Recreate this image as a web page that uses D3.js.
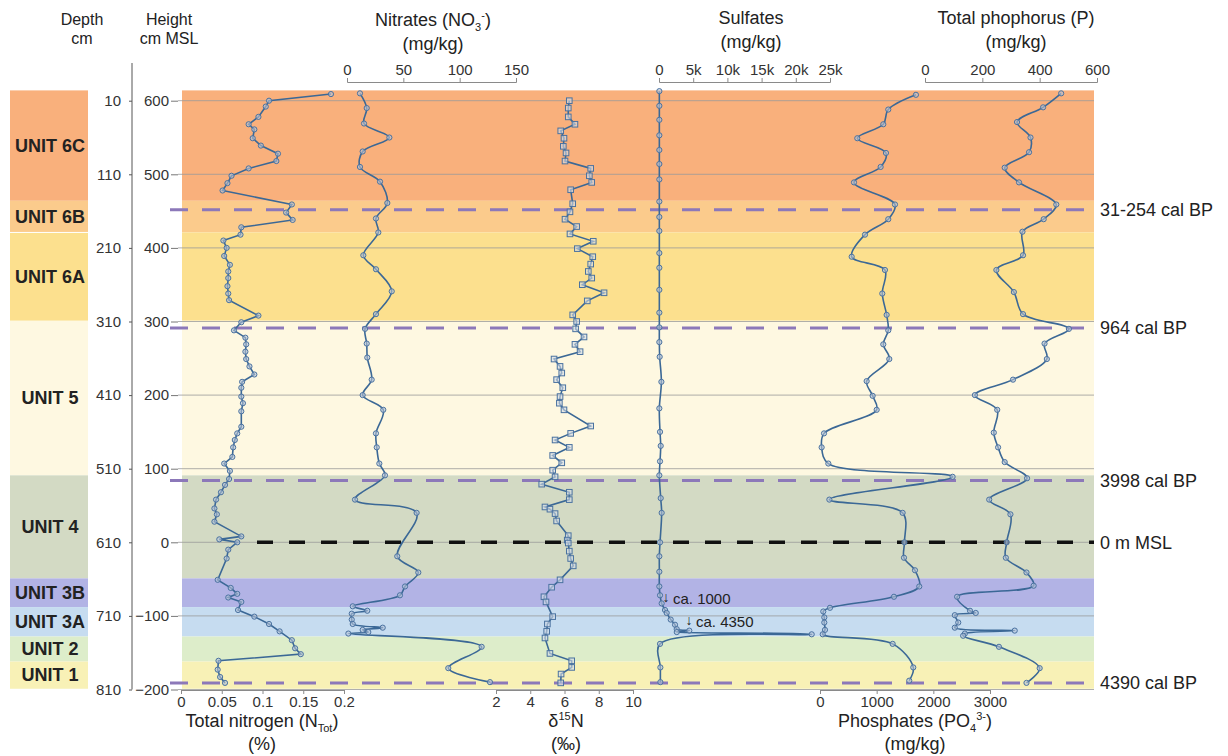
<!DOCTYPE html>
<html lang="en">
<head>
<meta charset="UTF-8">
<title>Sediment core geochemistry profile</title>
<style>
  body { margin: 0; background: #fff; font-family: "Liberation Sans", Arial, sans-serif; }
  svg text { fill: #222; font-family: "Liberation Sans", Arial, sans-serif; }
  .tick text { fill: #333; }
</style>
</head>
<body>
<svg id="chart" width="1228" height="756"></svg>
<script src="https://d3js.org/d3.v7.min.js"></script>
<script>
// ---- data (height in cm MSL, value) ----
const units = ["UNIT 6C", "UNIT 6B", "UNIT 6A", "UNIT 5", "UNIT 4", "UNIT 3B", "UNIT 3A", "UNIT 2", "UNIT 1"];
const unitTops = [614, 464, 421, 301, 91, -49, -88, -128, -162];
const unitBottoms = [464, 421, 301, 91, -49, -88, -128, -162, -199];

const heightTicks = [600, 500, 400, 300, 200, 100, 0, -100, -200];
const depthLabels = [10, 110, 210, 310, 410, 510, 610, 710, 810];

const ageLines = [452, 291, 84, -191];
const ageLabels = ["31-254 cal BP", "964 cal BP", "3998 cal BP", "4390 cal BP"];

const totalN = [[609,0.184],[600,0.108],[592,0.104],[578,0.095],[568,0.083],[561,0.090],[549,0.088],[539,0.098],
  [528,0.119],[518,0.117],[508,0.083],[498,0.062],[488,0.057],[478,0.051],[459,0.136],[448,0.129],[438,0.137],
  [428,0.074],[418,0.073],[410,0.052],[400,0.056],[389,0.053],[377,0.060],[368,0.058],[359,0.058],[348,0.057],
  [338,0.058],[329,0.059],[308,0.095],[299,0.074],[288,0.065],[278,0.079],[269,0.080],[259,0.079],[249,0.080],
  [239,0.084],[228,0.090],[218,0.075],[210,0.074],[198,0.074],[189,0.076],[178,0.074],[157,0.074],[148,0.069],
  [139,0.066],[129,0.064],[116,0.063],[107,0.053],[97,0.060],[86,0.059],[78,0.054],[68,0.049],[58,0.043],
  [46,0.041],[38,0.044],[28,0.041],[8,0.074],[4,0.047],[0,0.069],[-10,0.058],[-22,0.056],[-51,0.045],
  [-62,0.061],[-70,0.069],[-75,0.058],[-81,0.074],[-92,0.070],[-101,0.090],[-111,0.108],[-121,0.121],
  [-133,0.136],[-144,0.140],[-152,0.147],[-161,0.046],[-173,0.045],[-183,0.048],[-191,0.054]];

const nitrates = [[610,11.5],[590,17.5],[569,15.1],[550,37.6],[531,13.9],[510,11.5],[490,29.3],[461,35.8],
  [440,25.7],[421,27.8],[390,14.5],[371,25.7],[341,39.7],[310,25.7],[290,16.0],[270,17.5],[251,18.0],
  [221,21.9],[200,13.9],[180,32.2],[148,25.7],[129,26.4],[107,28.7],[91,33.7],[58,7.1],[40,61.8],
  [-19,44.6],[-41,63.3],[-60,51.5],[-72,47.0],[-87,5.1],[-93,18.0],[-97,4.2],[-105,4.2],[-111,5.1],
  [-116,31.7],[-119,13.9],[-122,18.9],[-124,1.2],[-142,119.5],[-171,89.9],[-190,126.9]];

const delta15N = [[600,6.28],[590,6.22],[578,6.22],[568,6.61],[559,5.78],[549,5.97],[538,5.93],[529,6.09],
  [518,6.03],[508,7.53],[498,7.45],[489,7.59],[479,6.36],[460,6.48],[449,6.32],[439,6.03],[429,6.71],
  [419,6.32],[409,7.68],[399,6.75],[388,7.65],[378,7.53],[368,7.39],[359,7.59],[350,7.04],[339,8.31],
  [328,7.33],[309,6.48],[300,6.71],[290,6.65],[279,7.14],[269,6.61],[259,6.91],[249,5.39],[239,5.74],
  [230,5.84],[221,5.54],[210,5.90],[198,5.74],[189,5.70],[180,5.97],[158,7.53],[148,6.36],[139,5.45],
  [129,6.28],[118,5.31],[108,5.84],[98,5.31],[89,5.45],[79,4.67],[68,6.28],[58,6.28],[48,4.86],[45,5.15],
  [39,5.45],[29,5.54],[9,6.22],[3,6.16],[-1,6.22],[-12,6.28],[-22,6.36],[-32,6.51],[-51,5.74],[-61,5.25],
  [-74,4.80],[-81,4.92],[-101,5.31],[-111,5.00],[-121,4.96],[-130,4.86],[-151,5.15],[-161,6.42],
  [-170,6.42],[-179,5.80],[-191,5.78]];

const sulfates = [[613,50],[593,50],[574,50],[553,50],[533,50],[514,50],[493,50],[463,50],[442,50],[423,50],
  [393,50],[373,50],[343,50],[312,50],[292,50],[272,50],[252,100],[218,350],[182,50],[150,150],[131,250],
  [110,150],[91,50],[60,250],[40,390],[0,150],[-19,50],[-40,50],[-60,50],[-72,150],[-83,390],[-92,880],
  [-96,1125],[-105,1710],[-112,2340],[-118,2590],[-120,4430],[-122,2600],[-125,22325],[-138,150],
  [-170,200],[-190,200]];

const phosphates = [[608,1693],[588,1205],[568,1117],[549,658],[529,1164],[510,1070],[489,600],[459,1323],
  [439,1205],[418,794],[388,559],[370,1146],[338,1099],[309,1176],[288,1205],[269,1117],[249,1223],
  [219,823],[199,929],[180,1000],[148,71],[129,29],[107,147],[89,2340],[58,165],[40,1458],[0,1490],
  [-21,1482],[-38,1676],[-60,1752],[-74,1305],[-89,176],[-94,58],[-102,76],[-109,76],[-119,88],[-125,48],
  [-138,1282],[-170,1646],[-188,1575]];

const totalP = [[610,475],[591,412],[571,321],[550,368],[530,363],[509,278],[489,328],[459,458],[439,414],
  [422,340],[390,342],[370,249],[340,310],[310,342],[290,502],[270,417],[249,425],[221,307],[200,174],
  [180,252],[149,240],[129,255],[109,278],[87,356],[58,224],[38,298],[0,285],[-21,282],[-41,354],
  [-59,379],[-74,112],[-93,157],[-96,177],[-99,104],[-109,116],[-116,104],[-120,313],[-124,139],
  [-127,133],[-142,258],[-171,400],[-191,354]];

const tnTicks = [0, 0.05, 0.1, 0.15, 0.2];
const noTicks = [0, 50, 100, 150];
const dnTicks = [2, 4, 6, 8, 10];
const soTicks = [0, 5000, 10000, 15000, 20000, 25000];
const poTicks = [0, 1000, 2000, 3000];
const tpTicks = [0, 200, 400, 600];

// ---- layout ----
const unitColors = ["#F9B07C", "#FBCB8C", "#FCE08E", "#FEF8E1", "#D3DAC4", "#B2B3E5", "#C6DCF0", "#DDEDCA", "#F8F1B6"];
const lineColor = "#3B6896";
const plotLeft = 182, plotRight = 1094;

const svg = d3.select('#chart');
const y = d3.scaleLinear().domain([600, -200]).range([100.7, 689.5]);

const xTN = d3.scaleLinear().domain([0, 0.2]).range([181, 344]);
const xNO = d3.scaleLinear().domain([0, 150]).range([347, 516]);
const xDN = d3.scaleLinear().domain([2, 10]).range([496, 633]);
const xSO = d3.scaleLinear().domain([0, 25000]).range([659, 830]);
const xPO = d3.scaleLinear().domain([0, 3000]).range([820, 990]);
const xTP = d3.scaleLinear().domain([0, 600]).range([925, 1097]);

// unit bands: left column and plot background
units.forEach((u, i) => {
    const y0 = y(unitTops[i]), y1 = y(unitBottoms[i]);
    svg.append('rect').attr('x', 10).attr('y', y0).attr('width', 78).attr('height', y1 - y0)
        .attr('fill', unitColors[i]);
    svg.append('rect').attr('x', plotLeft).attr('y', y0).attr('width', plotRight - plotLeft).attr('height', y1 - y0)
        .attr('fill', unitColors[i]);
    svg.append('text').attr('x', 50).attr('y', (y0 + y1) / 2).attr('dy', '0.35em')
        .attr('text-anchor', 'middle').style('font-size', '18px').style('font-weight', 'bold')
        .text(u);
});
// thin white split between 6B and 6A in left column
svg.append('line').attr('x1', 10).attr('x2', 88).attr('y1', y(421)).attr('y2', y(421))
    .attr('stroke', '#fff').attr('stroke-width', 1);

// grid lines
svg.append('g').selectAll('line').data(heightTicks).enter().append('line')
    .attr('x1', 178).attr('x2', plotRight)
    .attr('y1', d => y(d)).attr('y2', d => y(d))
    .attr('stroke', '#9a9a9a').attr('stroke-width', 0.8);

// depth axis (left)
svg.append('line').attr('x1', 132).attr('x2', 132).attr('y1', 63).attr('y2', y(-200))
    .attr('stroke', '#555').attr('stroke-width', 1);
const depthAxis = d3.axisLeft(y).tickValues(heightTicks).tickSize(3).tickPadding(8)
    .tickFormat((d, i) => depthLabels[i]);
svg.append('g').attr('transform', 'translate(132,0)').call(depthAxis)
    .call(g => g.select('.domain').remove())
    .call(g => g.selectAll('line').attr('stroke', '#555'))
    .call(g => g.selectAll('text').style('font-size', '15px'));

// height axis
const heightAxis = d3.axisLeft(y).tickValues(heightTicks).tickSize(7).tickPadding(2);
svg.append('g').attr('transform', 'translate(178,0)').call(heightAxis)
    .call(g => g.select('.domain').remove())
    .call(g => g.selectAll('line').attr('stroke', '#777'))
    .call(g => g.selectAll('text').style('font-size', '15px'));

// age lines
svg.append('g').selectAll('line').data(ageLines).enter().append('line')
    .attr('x1', 170).attr('x2', plotRight)
    .attr('y1', d => y(d)).attr('y2', d => y(d))
    .attr('stroke', '#8C78B9').attr('stroke-width', 3).attr('stroke-dasharray', '18,14');
svg.append('g').selectAll('text').data(ageLines).enter().append('text')
    .attr('x', 1100).attr('y', d => y(d)).attr('dy', '0.35em')
    .style('font-size', '18px').text((d, i) => ageLabels[i]);

// sea level
svg.append('line').attr('x1', 257).attr('x2', plotRight).attr('y1', y(0)).attr('y2', y(0))
    .attr('stroke', '#111').attr('stroke-width', 3.5).attr('stroke-dasharray', '16,16');
svg.append('text').attr('x', 1100).attr('y', y(0)).attr('dy', '0.35em')
    .style('font-size', '18px').text('0 m MSL');

// profiles
function profile(data, x, curve, shape) {
    const line = d3.line().x(d => x(d[1])).y(d => y(d[0])).curve(curve);
    svg.append('path').datum(data).attr('d', line)
        .attr('fill', 'none').attr('stroke', lineColor).attr('stroke-width', 1.6);
    const g = svg.append('g');
    if (shape === 'square') {
        g.selectAll('rect').data(data).enter().append('rect')
            .attr('x', d => x(d[1]) - 2.8).attr('y', d => y(d[0]) - 2.8)
            .attr('width', 5.6).attr('height', 5.6)
            .attr('fill', '#D3DCE8').attr('fill-opacity', 0.6)
            .attr('stroke', '#4A72A0').attr('stroke-width', 1);
    } else {
        g.selectAll('circle').data(data).enter().append('circle')
            .attr('cx', d => x(d[1])).attr('cy', d => y(d[0])).attr('r', 2.6)
            .attr('fill', '#B4C3D8').attr('fill-opacity', 0.6)
            .attr('stroke', '#4A72A0').attr('stroke-width', 1);
    }
}
const smooth = d3.curveCatmullRom.alpha(0.5);
profile(totalN, xTN, d3.curveLinear, 'circle');
profile(nitrates, xNO, smooth, 'circle');
profile(delta15N, xDN, d3.curveLinear, 'square');
profile(sulfates, xSO, smooth, 'circle');
profile(phosphates, xPO, smooth, 'circle');
profile(totalP, xTP, smooth, 'circle');

// sulfate annotations
function note(xp, yp, label) {
    svg.append('text').attr('x', xp).attr('y', yp).attr('dy', '0.35em')
        .attr('text-anchor', 'middle').style('font-size', '14px').text('\u2193');
    svg.append('text').attr('x', xp + 7).attr('y', yp + 2).attr('dy', '0.35em')
        .style('font-size', '15px').text(label);
}
note(666, 597, 'ca. 1000');
note(689, 620, 'ca. 4350');

// value axes
function styleAxis(g) {
    g.selectAll('path, line').attr('stroke', '#8a8a8a');
    g.selectAll('text').style('font-size', '15px');
}
const kFormat = d => d === 0 ? '0' : (d / 1000) + 'k';
svg.append('g').attr('transform', 'translate(0,82)')
    .call(d3.axisTop(xNO).tickValues(noTicks).tickSize(4).tickPadding(3)).call(styleAxis);
svg.append('g').attr('transform', 'translate(0,82)')
    .call(d3.axisTop(xSO).tickValues(soTicks).tickSize(4).tickPadding(3).tickFormat(kFormat)).call(styleAxis);
svg.append('g').attr('transform', 'translate(0,82)')
    .call(d3.axisTop(xTP).tickValues(tpTicks).tickSize(4).tickPadding(3)).call(styleAxis);
svg.append('g').attr('transform', 'translate(0,690)')
    .call(d3.axisBottom(xTN).tickValues(tnTicks).tickSize(4).tickPadding(2).tickFormat(d => d)).call(styleAxis);
svg.append('g').attr('transform', 'translate(0,690)')
    .call(d3.axisBottom(xDN).tickValues(dnTicks).tickSize(4).tickPadding(2)).call(styleAxis);
svg.append('g').attr('transform', 'translate(0,690)')
    .call(d3.axisBottom(xPO).tickValues(poTicks).tickSize(4).tickPadding(2).tickFormat(d => d)).call(styleAxis);

// headers
function label(xp, yp, size, anchor) {
    return svg.append('text').attr('x', xp).attr('y', yp)
        .attr('text-anchor', anchor || 'middle').style('font-size', size + 'px');
}
label(82, 25, 16).text('Depth');
label(82, 44, 16).text('cm');
label(169, 25, 16).text('Height');
label(169, 44, 16).text('cm MSL');

const t1 = label(433, 26, 18);
t1.append('tspan').text('Nitrates (NO');
t1.append('tspan').attr('dy', 5).style('font-size', '11px').text('3');
t1.append('tspan').attr('dy', -12).style('font-size', '11px').text('-');
t1.append('tspan').attr('dy', 7).text(')');
label(433, 50, 18).text('(mg/kg)');

label(751, 24, 18).text('Sulfates');
label(751, 48, 18).text('(mg/kg)');

label(1016, 24, 18).text('Total phophorus (P)');
label(1016, 48, 18).text('(mg/kg)');

const b1 = label(262, 727, 18);
b1.append('tspan').text('Total nitrogen (N');
b1.append('tspan').attr('dy', 5).style('font-size', '11px').text('Tot');
b1.append('tspan').attr('dy', -5).text(')');
label(262, 750, 18).text('(%)');

const b2 = label(566, 727, 18);
b2.append('tspan').text('\u03B4');
b2.append('tspan').attr('dy', -7).style('font-size', '11px').text('15');
b2.append('tspan').attr('dy', 7).text('N');
label(566, 750, 18).text('(\u2030)');

const b3 = label(915, 727, 18);
b3.append('tspan').text('Phosphates (PO');
b3.append('tspan').attr('dy', 5).style('font-size', '11px').text('4');
b3.append('tspan').attr('dy', -12).style('font-size', '11px').text('3-');
b3.append('tspan').attr('dy', 7).text(')');
label(915, 750, 18).text('(mg/kg)');
</script>
</body>
</html>
